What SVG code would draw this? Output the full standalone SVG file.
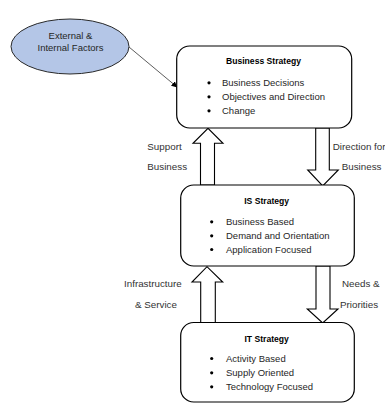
<svg xmlns="http://www.w3.org/2000/svg" width="385" height="403" viewBox="0 0 385 403">
<defs>
<style>
text{font-family:"Liberation Sans",Arial,sans-serif;fill:#262626;font-size:9.5px}
.t{font-weight:bold;text-anchor:middle;font-size:8.6px;fill:#000}
.lb{font-size:9.8px;fill:#333}
.box{fill:#fff;stroke:#000;stroke-width:1.2}
.blk{fill:#fff;stroke:#000;stroke-width:1.1;stroke-linejoin:miter}
.dot{fill:#000}
</style>
<marker id="ah" viewBox="0 0 10 10" refX="9" refY="5" markerWidth="6" markerHeight="6" orient="auto" markerUnits="userSpaceOnUse">
<path d="M0,0 L10,5 L0,10 z" fill="#000"/>
</marker>
</defs>
<rect width="385" height="403" fill="#fff"/>
<g id="connectors">
<line x1="129" y1="47" x2="177" y2="87" stroke="#333" stroke-width="0.8" marker-end="url(#ah)"/>
<path class="blk" d="M200.5,185 L200.5,143.3 L193,143.3 L208,128.3 L223,143.3 L214.5,143.3 L214.5,185 Z"/>
<path class="blk" d="M315.7,128 L315.7,170 L307.7,170 L322.7,186 L338.3,170 L329.3,170 L329.3,128 Z"/>
<path class="blk" d="M200.7,322.5 L200.7,282 L192,282 L207,266.7 L222.7,282 L215.3,282 L215.3,322.5 Z"/>
<path class="blk" d="M316,266 L316,309 L307.3,309 L322.7,323 L338,309 L330,309 L330,266 Z"/>
<text class="lb" x="147.3" y="150">Support</text>
<text class="lb" x="147.3" y="170">Business</text>
<text class="lb" x="332.7" y="150">Direction for</text>
<text class="lb" x="341.7" y="170">Business</text>
<text class="lb" x="124" y="287">Infrastructure</text>
<text class="lb" x="135" y="308">&amp; Service</text>
<text class="lb" x="342" y="287">Needs &amp;</text>
<text class="lb" x="340" y="308">Priorities</text>
</g>
<g id="factors">
<ellipse cx="70" cy="46.5" rx="59" ry="27.5" fill="#b4c6e7" stroke="#2a2a2a" stroke-width="1"/>
<text x="70.5" y="38.5" text-anchor="middle">External &amp;</text>
<text x="70.5" y="51" text-anchor="middle">Internal Factors</text>
</g>
<g id="business-strategy">
<rect class="box" x="176.7" y="46" width="175" height="82" rx="13"/>
<text class="t" x="263.5" y="64">Business Strategy</text>
<circle class="dot" cx="209" cy="82.8" r="1.6"/>
<circle class="dot" cx="209" cy="96.8" r="1.6"/>
<circle class="dot" cx="209" cy="110.8" r="1.6"/>
<text x="222" y="86">Business Decisions</text>
<text x="222" y="100">Objectives and Direction</text>
<text x="222" y="114">Change</text>
</g>
<g id="is-strategy">
<rect class="box" x="180.7" y="185" width="173.6" height="81" rx="13"/>
<text class="t" x="266.7" y="204">IS Strategy</text>
<circle class="dot" cx="211.7" cy="221.8" r="1.6"/>
<circle class="dot" cx="211.7" cy="235.8" r="1.6"/>
<circle class="dot" cx="211.7" cy="249.5" r="1.6"/>
<text x="226" y="225">Business Based</text>
<text x="226" y="239">Demand and Orientation</text>
<text x="226" y="252.7">Application Focused</text>
</g>
<g id="it-strategy">
<rect class="box" x="180.7" y="322.5" width="173.6" height="79.5" rx="13"/>
<text class="t" x="266.7" y="341.7">IT Strategy</text>
<circle class="dot" cx="211.7" cy="358.5" r="1.6"/>
<circle class="dot" cx="211.7" cy="372.8" r="1.6"/>
<circle class="dot" cx="211.7" cy="386.8" r="1.6"/>
<text x="226" y="361.7">Activity Based</text>
<text x="226" y="376">Supply Oriented</text>
<text x="226" y="390">Technology Focused</text>
</g>
</svg>
